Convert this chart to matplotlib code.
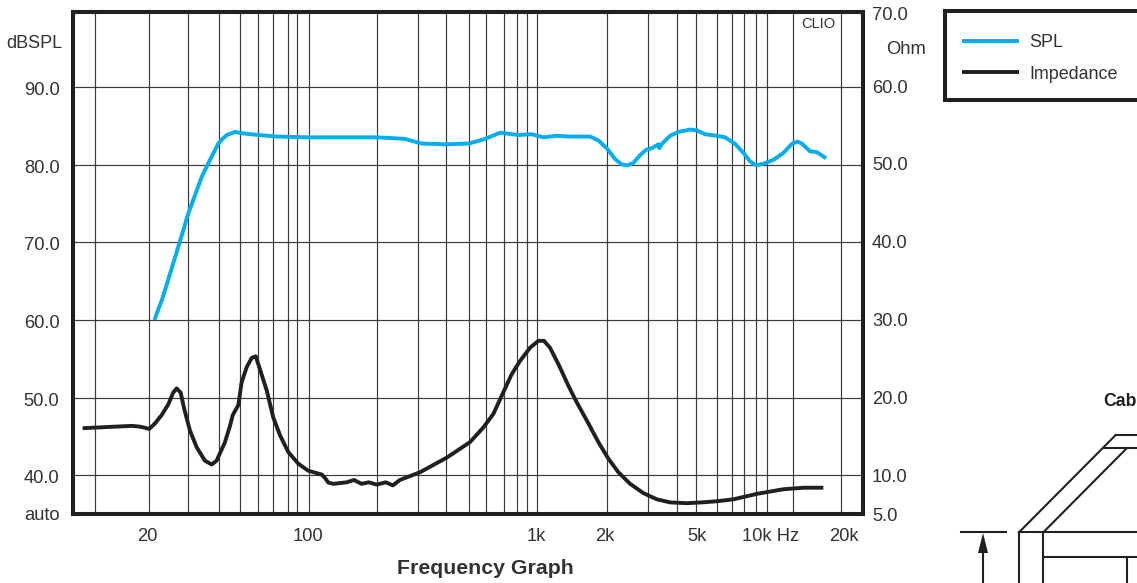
import matplotlib
matplotlib.use("Agg")
import matplotlib.pyplot as plt
from matplotlib.lines import Line2D
from matplotlib.patches import Rectangle
from matplotlib.transforms import ScaledTranslation

plt.rcParams['font.family'] = ['Liberation Sans', 'DejaVu Sans']

# ---- data ----
spl_freq = [21.2, 23.0, 27.4, 29.8, 34.1, 36.5, 40.3, 42.0, 43.9, 47.7, 51.8, 60.3, 72.5, 100, 199, 263, 311, 400,
            501, 589, 685, 822, 942, 1058, 1211, 1384, 1692, 1839, 2000, 2175, 2327, 2463, 2615, 2797, 2972, 3148,
            3363, 3396, 3479, 3784, 4111, 4624, 4943, 5378, 6050, 6577, 7270, 7906, 8453, 8954, 9663, 10690,
            11820, 12850, 13600, 14220, 15450, 16530, 18150]
spl_db = [60.0, 62.8, 70.1, 73.7, 78.4, 80.2, 82.7, 83.3, 83.8, 84.2, 84.0, 83.8, 83.6, 83.5, 83.5, 83.3, 82.7, 82.6,
          82.7, 83.3, 84.1, 83.8, 83.9, 83.5, 83.7, 83.6, 83.6, 83.1, 82.1, 80.7, 80.0, 79.9, 80.2, 81.2, 81.9, 82.1,
          82.6, 82.1, 82.65, 83.7, 84.2, 84.5, 84.4, 83.9, 83.7, 83.5, 82.65, 81.5, 80.4, 79.9, 80.1, 80.6,
          81.5, 82.65, 82.95, 82.7, 81.7, 81.6, 80.8]

imp_freq = [10.3, 16.9, 18.3, 19.3, 20.1, 21.3, 22.8, 24.4, 25.6, 26.5, 27.6, 28.6, 30.3, 32.4, 35.2, 37.7, 39.6,
            43.1, 45.3, 46.6, 49.3, 50.9, 53.6, 56.4, 58.7, 61.2, 65.6, 70, 75, 81.5, 90.1, 99.5, 114, 117.8, 121.8,
            128, 146.6, 157.7, 170, 183, 198, 217, 233, 250, 306, 401, 506, 579, 640, 696, 770, 837, 925, 1006,
            1065, 1131, 1230, 1360, 1479, 1637, 1839, 2034, 2249, 2531, 2892, 3311, 3784, 4477, 5200, 6053, 7145,
            9040, 11800, 14450, 17660]
imp_ohm = [16.1, 16.4, 16.3, 16.15, 16.0, 16.7, 17.8, 19.2, 20.7, 21.25, 20.7, 18.6, 15.8, 13.65, 11.9, 11.4, 11.9,
           14.3, 16.4, 17.8, 19.1, 22.0, 24.0, 25.2, 25.4, 23.75, 20.95, 17.5, 15.15, 13.0, 11.5, 10.6, 10.1, 9.65, 9.06,
           8.9, 9.1, 9.4, 8.9, 9.1, 8.8, 9.1, 8.7, 9.4, 10.4, 12.3, 14.3, 16.2, 17.95, 20.3, 23.1, 24.8, 26.5, 27.4,
           27.4, 26.5, 24.4, 21.6, 19.45, 17.1, 14.3, 12.15, 10.4, 8.9, 7.7, 6.9, 6.5, 6.4, 6.5, 6.65, 6.9,
           7.6, 8.2, 8.4, 8.4]

grid_freqs = [11.7, 20, 29.8, 40.4, 50, 59.9, 70, 80.9, 89.2, 100, 199, 300, 398, 500, 597, 710, 810, 893, 997,
              2000, 3020, 4070, 4925, 6090, 7060, 7990, 9000, 10000, 13000, 21000]
x_tick_pos = [19.7, 99.7, 990, 1960, 4950, 10400, 21700]
x_tick_labels = ['20', '100', '1k', '2k', '5k', '10k Hz', '20k']
db_ticks = [40, 50, 60, 70, 80, 90]
db_labels = ['40.0', '50.0', '60.0', '70.0', '80.0', '90.0']
ohm_ticks = [5, 10, 20, 30, 40, 50, 60, 70]
ohm_labels = ['5.0', '10.0', '20.0', '30.0', '40.0', '50.0', '60.0', '70.0']
ohm_label_shift_px = [-0.5, 0, 1, 1.5, 2, 2.5, 2, -1.5]

# ---- style ----
W, H = 1137, 583
INK = '#231f20'
TXT = '#333132'
BLUE = '#00aeef'
TICK_FS = 13.2

fig = plt.figure(figsize=(W / 100, H / 100), dpi=100, facecolor='white')


def fx(px):
    return px / W


def fy(py):
    return 1 - py / H


def px_shift(dy_px):
    return ScaledTranslation(0, dy_px / 100, fig.dpi_scale_trans)


ax = fig.add_axes([fx(73), fy(514), fx(863 - 73), fy(11.5) - fy(514)])
ax.set_xscale('log')
ax.set_xlim(9.35, 26300)
ax.set_ylim(35, 99.7)

ax.set_xticks(x_tick_pos, labels=x_tick_labels)
ax.set_xticks(grid_freqs, minor=True)
ax.set_xticklabels([], minor=True)
ax.set_yticks(db_ticks, labels=db_labels)
ax.tick_params(axis='x', which='both', length=0, labelsize=TICK_FS, labelcolor=TXT, pad=10)
ax.tick_params(axis='y', which='both', length=0, labelsize=TICK_FS, labelcolor=TXT, pad=9.8)
ax.grid(True, which='minor', axis='x', color='#3a3a3a', lw=0.85)
ax.grid(False, which='major', axis='x')
ax.grid(True, which='major', axis='y', color='#3a3a3a', lw=0.85)
ax.set_axisbelow(True)

spl_line, = ax.plot(spl_freq, spl_db, color=BLUE, lw=2.8, solid_joinstyle='round',
                    solid_capstyle='butt', label='SPL', zorder=3)

ax2 = ax.twinx()
ax2.set_ylim(5, 69.7)
ax2.set_yticks(ohm_ticks, labels=ohm_labels)
ax2.tick_params(axis='y', length=0, labelsize=TICK_FS, labelcolor=TXT, pad=6.5)
imp_line, = ax2.plot(imp_freq, imp_ohm, color=INK, lw=2.8, solid_joinstyle='round',
                     solid_capstyle='butt', label='Impedance', zorder=3)

for a in (ax, ax2):
    for s in a.spines.values():
        s.set_linewidth(2.9)
        s.set_color(INK)

# value labels sit a little off their grid lines in the reference
for lab in ax.get_yticklabels():
    lab.set_transform(lab.get_transform() + px_shift(-1.5))
for lab, dy in zip(ax2.get_yticklabels(), ohm_label_shift_px):
    lab.set_transform(lab.get_transform() + px_shift(dy))

fig.text(fx(62), fy(43), 'dBSPL', ha='right', va='center', fontsize=13, color=TXT)
fig.text(fx(60), fy(515), 'auto', ha='right', va='center', fontsize=13.2, color=TXT)
fig.text(fx(926), fy(49), 'Ohm', ha='right', va='center', fontsize=13.2, color=TXT)
fig.text(fx(835), fy(24), 'CLIO', ha='right', va='center', fontsize=10.5, color=TXT)
fig.text(fx(485), fy(569), 'Frequency Graph', ha='center', va='center', fontsize=15.3,
         fontweight='bold', color=TXT)

# legend box runs off the right edge of the picture
fig.add_artist(Rectangle((fx(944.5), fy(100)), fx(260), fy(11.5) - fy(100), transform=fig.transFigure,
                         facecolor='white', edgecolor=INK, lw=2.9))
leg = fig.legend(handles=[spl_line, imp_line], loc='upper left',
                 bbox_to_anchor=(fx(942), fy(14)), borderaxespad=0, frameon=False,
                 fontsize=12.9, handlelength=3.18, handletextpad=0.56,
                 borderpad=1.12, labelspacing=0.81, labelcolor=TXT)
for h in leg.get_lines():
    h.set_linewidth(2.8)

# cabinet drawing, cropped by the right edge of the picture
cabinet_segments = [
    ((961, 532.3), (1006, 532.3)),
    ((1019, 532.3), (1137, 532.3)),
    ((1019, 532.3), (1115.7, 435)),
    ((1043.3, 532.3), (1125.7, 449.3)),
    ((1115.7, 435), (1137, 435)),
    ((1103.3, 448.3), (1137, 448.3)),
    ((1019, 532.3), (1019, 583)),
    ((1043.3, 532.3), (1043.3, 583)),
    ((1043.3, 556.7), (1137, 556.7)),
    ((1126.7, 556.7), (1126.7, 583)),
    ((983, 552), (983, 583)),
]
for (x0, y0), (x1, y1) in cabinet_segments:
    fig.add_artist(Line2D([fx(x0), fx(x1)], [fy(y0), fy(y1)], transform=fig.transFigure,
                          color=INK, lw=1.5))
fig.add_artist(plt.Polygon([(fx(983), fy(533)), (fx(978), fy(553)), (fx(988), fy(553))],
                           closed=True, transform=fig.transFigure, color=INK, lw=0))
fig.text(fx(1103.5), fy(401), 'Cab', ha='left', va='center', fontsize=12.7, fontweight='bold', color=INK)

fig.savefig('out.png', dpi=100, facecolor='white')
